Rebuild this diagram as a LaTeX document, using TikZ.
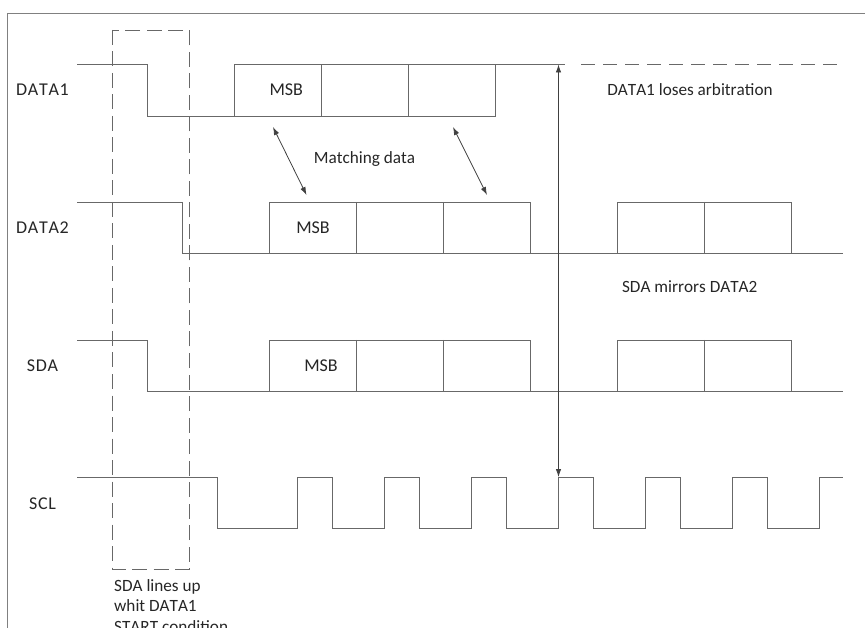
\documentclass[tikz,border=0pt]{standalone}
\usepackage{fontspec}
\setmainfont[Kerning=Off]{Carlito}
\usetikzlibrary{arrows.meta}
\definecolor{wave}{HTML}{686868}
\definecolor{frameC}{HTML}{808080}
\definecolor{arr}{HTML}{404040}
\tikzset{
  wire/.style={draw=wave,line width=0.9pt},
  framel/.style={draw=frameC,line width=1.1pt},
  dash box/.style={draw=wave,line width=0.9pt,dash pattern=on 15pt off 6.5pt},
  dashline/.style={draw=wave,line width=0.9pt,dash pattern=on 13.5pt off 8.5pt},
  dbl/.style={draw=arr,line width=0.8pt,{Latex[length=8pt,width=5.5pt]}-{Latex[length=8pt,width=5.5pt]}},
  lab/.style={font=\fontsize{18}{18}\selectfont\addfontfeature{LetterSpace=4},text=black!85,inner sep=0pt,anchor=base},
  msb/.style={font=\fontsize{18}{18}\selectfont,text=black!85,inner sep=0pt,anchor=base},
  labl/.style={font=\fontsize{17.2}{18}\selectfont,text=black!85,inner sep=0pt,anchor=base}
}
\begin{document}
\begin{tikzpicture}[x=1pt,y=-1pt]
\useasboundingbox (0,0) rectangle (865,628);
\path[framel] (7.5,628) -- (7.5,13.5) -- (865,13.5);
% dashed box
\path[dash box] (112,30) rectangle (189,569);
% DATA1
\path[wire] (77,64.5) -- (147,64.5) -- (147,116) -- (495,116) -- (495,64.5) -- (565,64.5);
\path[wire] (234,116) -- (234,64.5) -- (495,64.5);
\path[wire] (321,64.5) -- (321,116) (408,64.5) -- (408,116);
\path[dashline] (581,64.5) -- (841,64.5);
% DATA2
\path[wire] (77,202) -- (182,202) -- (182,253.5) -- (843,253.5);
\path[wire] (269,253.5) -- (269,202) -- (530,202) -- (530,253.5);
\path[wire] (356,202) -- (356,253.5) (443,202) -- (443,253.5);
\path[wire] (617,253.5) -- (617,202) -- (791,202) -- (791,253.5) (704,202) -- (704,253.5);
% SDA
\path[wire] (77,340) -- (147,340) -- (147,391.5) -- (843,391.5);
\path[wire] (269,391.5) -- (269,340) -- (530,340) -- (530,391.5);
\path[wire] (356,340) -- (356,391.5) (443,340) -- (443,391.5);
\path[wire] (617,391.5) -- (617,340) -- (791,340) -- (791,391.5) (704,340) -- (704,391.5);
% SCL
\path[wire] (77,477) -- (217,477) -- (217,528.5) -- (297,528.5) -- (297,477) -- (332,477) -- (332,528.5)
 -- (384,528.5) -- (384,477) -- (419,477) -- (419,528.5) -- (471,528.5) -- (471,477) -- (506,477) -- (506,528.5)
 -- (558,528.5) -- (558,477) -- (593,477) -- (593,528.5) -- (645,528.5) -- (645,477) -- (680,477) -- (680,528.5)
 -- (732,528.5) -- (732,477) -- (767,477) -- (767,528.5) -- (819,528.5) -- (819,477) -- (843,477);
% arrows
\coordinate (a1t) at (558.5,64.5);
\coordinate (a1b) at (558.5,477);
\coordinate (a2t) at (273,127);
\coordinate (a2b) at (306.5,195);
\coordinate (a3t) at (453,127);
\coordinate (a3b) at (487,195);
\draw[dbl] (a1t) -- (a1b);
\draw[dbl] (a2t) -- (a2b);
\draw[dbl] (a3t) -- (a3b);
% labels
\node[lab] (l1) at (42.5,95.7) {DATA1};
\node[lab] (l2) at (42.5,233.7) {DATA2};
\node[lab] (l3) at (42.5,371.5) {SDA};
\node[lab] (l4) at (42.5,509) {SCL};
\node[msb] (m1) at (286.3,95.7) {MSB};
\node[msb] (m2) at (313,233.7) {MSB};
\node[msb] (m3) at (321,371.7) {MSB};
\node[labl] (t1) at (364.6,164) {Matching data};
\node[labl] (t2) at (690,96) {DATA1 loses arbitration};
\node[labl] (t3) at (689.7,292.7) {SDA mirrors DATA2};
\node[labl,anchor=base west] (t4) at (114,591.5) {SDA lines up};
\node[labl,anchor=base west] (t5) at (114,611.5) {whit DATA1};
\begin{scope}
\clip (0,0) rectangle (865,628);
\node[labl,anchor=base west] (t6) at (114,632) {START condition};
\end{scope}
\end{tikzpicture}
\end{document}
